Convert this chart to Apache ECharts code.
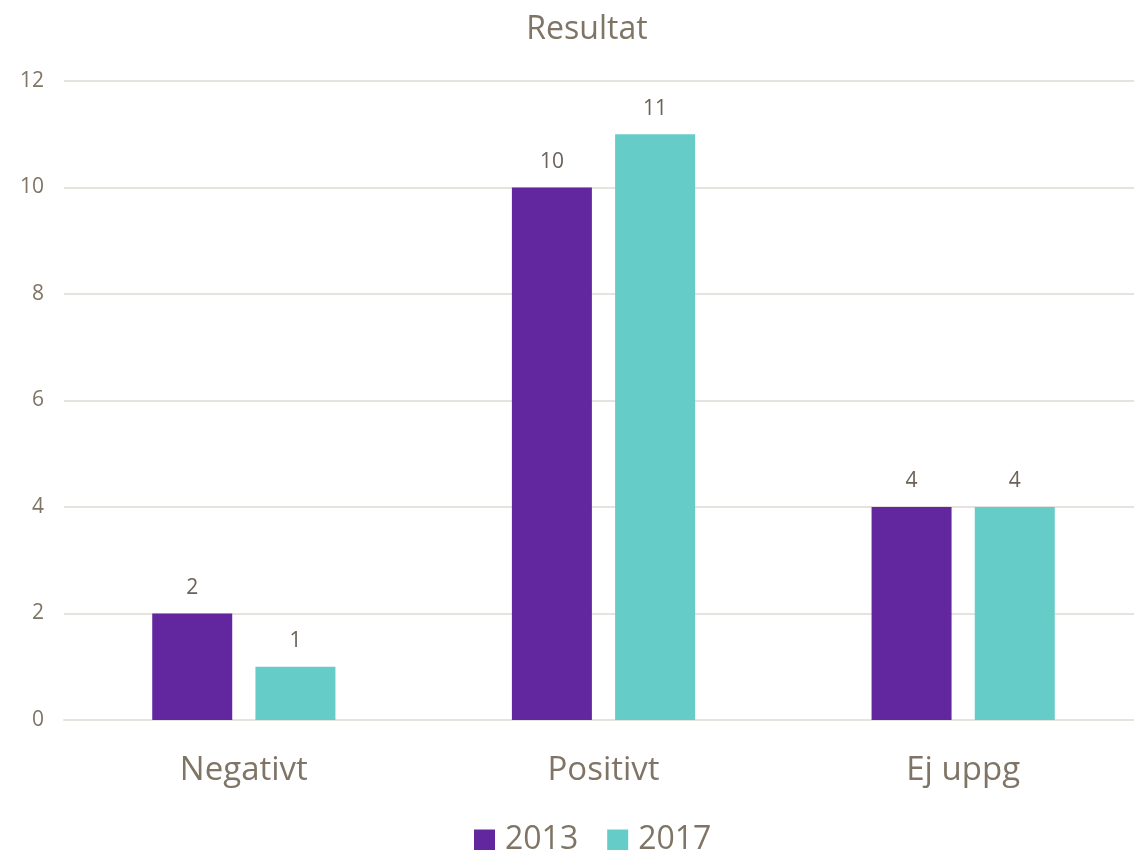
<!DOCTYPE html>
<html>
<head>
<meta charset="utf-8">
<script src="https://cdn.jsdelivr.net/npm/echarts@6/dist/echarts.min.js"></script>
<style>html,body{margin:0;padding:0;background:#fff;overflow:hidden}#c{width:1150px;height:850px}</style>
</head>
<body>
<div id="c"></div>
<script>
const categories = ['Negativt', 'Positivt', 'Ej uppg'];
const seriesNames = ['2013', '2017'];
const values2013 = [2, 10, 4];
const values2017 = [1, 11, 4];
const titleText = 'Resultat';

const textColor = '#7f7465';
const labelColor = '#6b6258';
const gridColor = '#e6e2de';
const fontFamily = '"Open Sans", sans-serif';

const chart = echarts.init(document.getElementById('c'), null, {renderer: 'canvas'});
chart.setOption({
  backgroundColor: '#ffffff',
  animation: false,
  title: {
    text: titleText,
    left: 582,
    top: 9,
    textAlign: 'center',
    textStyle: {color: textColor, fontSize: 32, fontWeight: 'normal', fontFamily: fontFamily}
  },
  legend: {
    data: seriesNames,
    left: 469,
    top: 819,
    itemWidth: 21,
    itemHeight: 21,
    itemGap: 29,
    icon: 'rect',
    textStyle: {color: textColor, fontSize: 32, fontFamily: fontFamily, padding: [0, 0, 0, 5]}
  },
  grid: {left: 64, top: 81, width: 1079, height: 639, containLabel: false},
  xAxis: {
    type: 'category',
    data: categories,
    axisLine: {show: true, lineStyle: {color: gridColor, width: 2}},
    axisTick: {show: false},
    axisLabel: {color: textColor, fontSize: 33, fontFamily: fontFamily, margin: 34}
  },
  yAxis: {
    type: 'value',
    min: 0,
    max: 12,
    interval: 2,
    axisLine: {show: false},
    axisTick: {show: false},
    splitLine: {show: true, lineStyle: {color: gridColor, width: 2}},
    axisLabel: {color: textColor, fontSize: 21, fontFamily: fontFamily, margin: 20}
  },
  series: [
    {
      name: seriesNames[0],
      type: 'bar',
      data: values2013,
      barWidth: 80,
      barGap: '29%',
      itemStyle: {color: '#62279e'},
      label: {show: true, position: 'top', distance: 15, color: labelColor, fontSize: 21, fontFamily: fontFamily}
    },
    {
      name: seriesNames[1],
      type: 'bar',
      data: values2017,
      barWidth: 80,
      barGap: '29%',
      itemStyle: {color: '#66ccc8'},
      label: {show: true, position: 'top', distance: 15, color: labelColor, fontSize: 21, fontFamily: fontFamily}
    }
  ]
});
</script>
</body>
</html>
